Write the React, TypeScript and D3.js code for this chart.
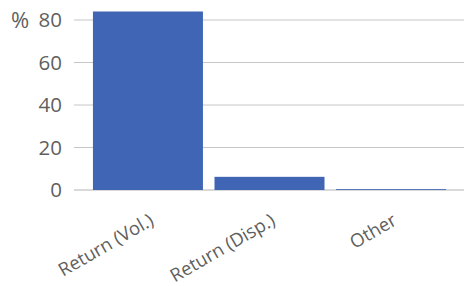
import React, { useEffect, useRef } from 'react';
import * as d3 from 'd3';

const categories = ['Return (Vol.)', 'Return (Disp.)', 'Other'];
const values = [84, 6.2, 0.4];
const yTicks = [0, 20, 40, 60, 80];

const App = () => {
  const svgRef = useRef<SVGSVGElement | null>(null);

  useEffect(() => {
    const width = 464;
    const height = 286;
    const font = "'Open Sans', sans-serif";

    const svg = d3.select(svgRef.current)
      .attr('width', width)
      .attr('height', height)
      .style('position', 'absolute')
      .style('left', 0)
      .style('top', 0);
    svg.selectAll('*').remove();

    const x = d3.scaleBand<string>()
      .domain(categories)
      .range([82, 457])
      .paddingInner(0.095)
      .paddingOuter(0.09);
    const y = d3.scaleLinear().domain([0, 80]).range([190, 20]);

    // gridlines
    svg.append('g')
      .selectAll('line')
      .data(yTicks)
      .join('line')
      .attr('x1', 74)
      .attr('x2', 464)
      .attr('y1', d => y(d))
      .attr('y2', d => y(d))
      .attr('stroke', d => (d === 0 ? '#d9d9d9' : '#c6c6c6'))
      .attr('stroke-width', d => (d === 0 ? 2 : 1));

    // y tick labels
    svg.append('g')
      .selectAll('text')
      .data(yTicks)
      .join('text')
      .attr('x', 62)
      .attr('y', d => y(d))
      .attr('dy', '0.36em')
      .attr('text-anchor', 'end')
      .attr('font-family', font)
      .attr('font-size', 20.5)
      .attr('fill', '#5f5f5f')
      .text(d => d);

    svg.append('text')
      .attr('x', 11)
      .attr('y', y(80))
      .attr('dy', '0.36em')
      .attr('font-family', font)
      .attr('font-size', 22)
      .attr('fill', '#5f5f5f')
      .text('%');

    // bars
    svg.append('g')
      .selectAll('rect')
      .data(values)
      .join('rect')
      .attr('x', (d, i) => x(categories[i])!)
      .attr('width', x.bandwidth())
      .attr('y', d => y(d))
      .attr('height', d => y(0) - y(d))
      .attr('fill', '#4065b4');

    // x labels
    svg.append('g')
      .selectAll('text')
      .data(categories)
      .join('text')
      .attr('transform', d => `translate(${x(d)! + x.bandwidth() / 2 + 7},${224}) rotate(-30)`)
      .attr('text-anchor', 'end')
      .attr('font-family', font)
      .attr('font-size', 18.5)
      .attr('fill', '#5f5f5f')
      .text(d => d);
  }, []);

  return <svg ref={svgRef}></svg>;
};

export default App;
